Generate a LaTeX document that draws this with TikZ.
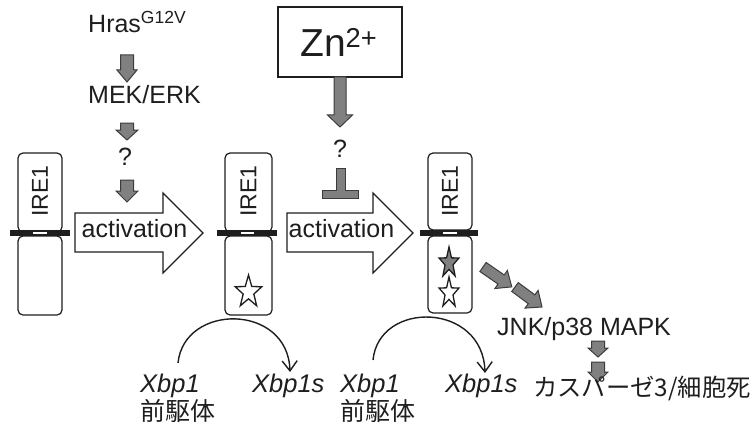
\documentclass[tikz,border=0pt]{standalone}
\usepackage{fontspec}
\setmainfont{Liberation Sans}
\newfontfamily\jpfont{Noto Sans CJK JP}
\usetikzlibrary{arrows.meta}
\definecolor{gfill}{RGB}{128,128,128}
\definecolor{gline}{RGB}{60,60,60}
\definecolor{txt}{RGB}{30,30,30}
\newcommand{\gblk}[7]{\draw[garrow, shift={(#1,#2)}, rotate=#3] (0pt,-#5pt) -- ({#4pt-#7pt},-#5pt) -- ({#4pt-#7pt},-#6pt) -- (#4pt,0pt) -- ({#4pt-#7pt},#6pt) -- ({#4pt-#7pt},#5pt) -- (0pt,#5pt) -- cycle;}
\newcommand{\drawstar}[5]{\draw[line width=1.3pt, fill=#5, draw=txt, line join=miter, shift={(#1,#2)}, xscale=#4] (90:#3pt) -- (126:0.4*#3pt) -- (162:#3pt) -- (198:0.4*#3pt) -- (234:#3pt) -- (270:0.4*#3pt) -- (306:#3pt) -- (342:0.4*#3pt) -- (18:#3pt) -- (54:0.4*#3pt) -- cycle;}
\begin{document}
\begin{tikzpicture}[x=1pt,y=-1pt,
  box/.style={draw=txt, line width=1.2pt, rounded corners=5pt, inner sep=0pt},
  lbl/.style={inner sep=0pt, text=txt, font=\fontsize{25}{30}\selectfont},
  ilbl/.style={inner sep=0pt, text=txt, font=\fontsize{25.5}{30}\selectfont\itshape},
  jlbl/.style={inner sep=0pt, text=txt, font=\jpfont\fontsize{25}{30}\selectfont},
  irelbl/.style={inner sep=0pt, text=txt, rotate=90, font=\fontsize{23}{28}\selectfont},
  garrow/.style={fill=gfill, draw=gline, line width=1pt, line join=miter},
  blk/.style={draw=txt, line width=1.2pt, fill=white, line join=miter},
  arc/.style={draw=txt, line width=1.4pt, -{Straight Barb[length=10pt,width=15pt]}},
  ]
\useasboundingbox[fill=white] (0,0) rectangle (754,433);

% ---- IRE1 column 1
\node[box, minimum width=44pt, minimum height=79pt] (up1) at (40,192.5) {};
\node[box, minimum width=44pt, minimum height=79pt] (lo1) at (40,275.5) {};
\node[irelbl] (ire1) at (40,191) {IRE1};
\draw[line width=6pt, txt] (10,233) -- (70,233);
\fill[white] (33,231.6) rectangle (47,234.4);

% ---- IRE1 column 2
\node[box, minimum width=47pt, minimum height=79pt] (up2) at (248.5,192.5) {};
\node[box, minimum width=47pt, minimum height=79pt] (lo2) at (248.5,275.5) {};
\node[irelbl] (ire2) at (248.5,191) {IRE1};
\draw[line width=6pt, txt] (217,233) -- (277,233);
\fill[white] (241,231.6) rectangle (254,234.4);
\drawstar{248.5}{292}{17}{0.82}{white}

% ---- IRE1 column 3
\node[box, minimum width=44pt, minimum height=77pt] (up3) at (450,191.5) {};
\node[box, minimum width=44pt, minimum height=77pt] (lo3) at (450,274.5) {};
\node[irelbl] (ire3) at (450,191) {IRE1};
\draw[line width=6pt, txt] (420,233) -- (478,233);
\fill[white] (443,231.6) rectangle (457,234.4);
\drawstar{449}{263}{16}{0.65}{gfill}
\drawstar{449}{293}{16}{0.65}{white}

% ---- activation block arrows
\draw[blk] (75,213) -- (163,213) -- (163,193) -- (203,233) -- (163,273) -- (163,252) -- (75,252) -- cycle;
\node[lbl, anchor=base] (act1) at (134.5,237) {activation};
\draw[blk] (287,213) -- (373,213) -- (373,193) -- (413,233) -- (373,273) -- (373,252) -- (287,252) -- cycle;
\node[lbl, anchor=base] (act2) at (341.5,237) {activation};

% ---- Hras pathway
\node[lbl, anchor=base west] (hras) at (88,33) {Hras\textsuperscript{G12V}};
\node[lbl, anchor=base west] (mek) at (88,103) {MEK/ERK};
\node[lbl, anchor=base] (q1) at (125,165) {?};
\gblk{127}{55}{-90}{27}{6.5}{10}{12}
\gblk{127}{123}{-90}{17}{6.5}{11}{10}
\gblk{127}{180}{-90}{22}{6.5}{11}{11}

% ---- Zn pathway
\node[draw=txt, line width=1.3pt, minimum width=124pt, minimum height=70pt, inner sep=0pt] (zn) at (340,42) {};
\node[inner sep=0pt, text=txt, anchor=base west, font=\fontsize{39}{46}\selectfont] (zntxt) at (300,57) {Zn\textsuperscript{2+}};
\gblk{340}{77}{-90}{50}{6}{12.5}{12}
\node[lbl, anchor=base] (q2) at (340,157) {?};
\draw[garrow] (336,168) -- (345,168) -- (345,190) -- (358,190) -- (358,198) -- (322,198) -- (322,190) -- (336,190) -- cycle;

% ---- JNK pathway
\gblk{483}{267}{-34.6}{35}{5.5}{11}{13}
\gblk{515}{287}{-36.5}{33.6}{5.5}{11}{13}
\node[lbl, anchor=base west] (jnk) at (497,335) {JNK/p38 MAPK};
\gblk{598}{341}{-90}{16}{6.5}{10}{9}
\gblk{598}{362}{-90}{20}{6.5}{10}{10}
\node[jlbl, anchor=west, font=\jpfont\fontsize{24.3}{28}\selectfont] (casp) at (533,388) {カスパーゼ3/細胞死};

% ---- Xbp1 splicing 1
\node[ilbl, anchor=base west] (xa1) at (140,392) {Xbp1};
\node[jlbl, anchor=west] (pre1) at (140,411) {前駆体};
\node[ilbl, anchor=base west] (xs1) at (252,392) {Xbp1s};
\coordinate (s1) at (178,363);
\coordinate (e1) at (290,372);
\draw[arc] (s1) .. controls (184,303) and (288,303) .. (e1);

% ---- Xbp1 splicing 2
\node[ilbl, anchor=base west] (xa2) at (340,392) {Xbp1};
\node[jlbl, anchor=west] (pre2) at (340,411) {前駆体};
\node[ilbl, anchor=base west] (xs2) at (445,392) {Xbp1s};
\coordinate (s2) at (373,360);
\coordinate (e2) at (485,373);
\draw[arc] (s2) .. controls (379,300) and (483,302) .. (e2);
\end{tikzpicture}
\end{document}
